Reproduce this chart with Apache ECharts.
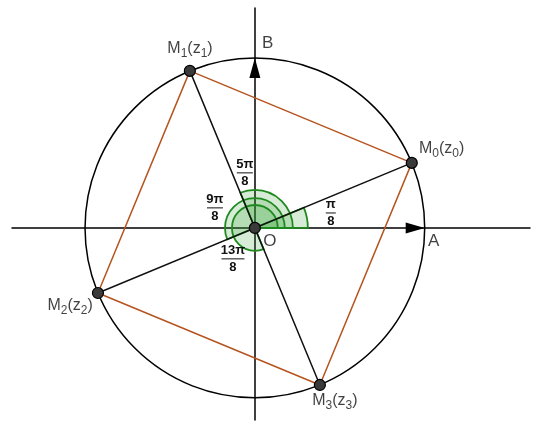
<!DOCTYPE html>
<html><head><meta charset="utf-8">
<script src="https://cdn.jsdelivr.net/npm/echarts@6/dist/echarts.min.js"></script>
<style>html,body{margin:0;padding:0;background:#fff}#c{width:535px;height:426px}</style>
</head><body><div id="c"></div>
<script>
// Data
const pointAnglesEighths = [1, 5, 9, 13];          // angles of M0..M3 in units of pi/8
const pointRadius = 1;
const pointNames = ['0', '1', '2', '3'];
const pointLabelPos = [[1.10, 0.465], [-0.382, 1.053], [-1.088, -0.459], [0.471, -1.018]];
const arcAnglesEighths = [1, 5, 9, 13];
const arcRadii = [0.312, 0.224, 0.176, 0.135];
const fracNumerators = ['π', '5π', '9π', '13π'];
const fracDenominators = ['8', '8', '8', '8'];
const fracPos = [[0.447, 0.088], [-0.059, 0.324], [-0.235, 0.118], [-0.129, -0.182]];
const axisLetters = ['A', 'B', 'O'];
const axisLetterPos = [[1.053, -0.076], [0.076, 1.088], [0.088, -0.076]];

const pts = pointAnglesEighths.map(k => [pointRadius * Math.cos(k * Math.PI / 8), pointRadius * Math.sin(k * Math.PI / 8)]);
const FONT = 'Liberation Sans, Arial, sans-serif';

const chart = echarts.init(document.getElementById('c'), null, {renderer: 'canvas'});
const hiddenAxis = (min, max) => ({
  type: 'value', min, max,
  axisLine: {show: true, onZero: true, lineStyle: {color: '#000', width: 1.5}},
  axisTick: {show: false}, axisLabel: {show: false}, splitLine: {show: false}
});

const option = {
  animation: false,
  backgroundColor: '#fff',
  grid: {left: 12, right: 5, top: 8, bottom: 6},
  xAxis: hiddenAxis(-1.43, 1.62),
  yAxis: hiddenAxis(-1.13, 1.294),
  series: [
    { // angle sectors
      type: 'custom', z: 2,
      data: arcAnglesEighths.map((k, i) => [0, 0, k, arcRadii[i]]),
      renderItem: (params, api) => {
        const c = api.coord([api.value(0), api.value(1)]);
        const r = api.size([api.value(3), 0])[0];
        return {type: 'sector', shape: {cx: c[0], cy: c[1], r0: 0, r: r, startAngle: 0, endAngle: -api.value(2) * Math.PI / 8, clockwise: false},
          style: {fill: 'rgba(50,160,50,0.2)', stroke: '#1e8a1e', lineWidth: 1.8}};
      }
    },
    { // circle
      type: 'custom', z: 3,
      data: [[0, 0, pointRadius]],
      renderItem: (params, api) => {
        const c = api.coord([api.value(0), api.value(1)]);
        const r = api.size([api.value(2), 0])[0];
        return {type: 'circle', shape: {cx: c[0], cy: c[1], r: r}, style: {fill: 'none', stroke: '#000', lineWidth: 1.5}};
      }
    },
    { // diagonals
      type: 'line', z: 4, symbol: 'none', silent: true,
      data: [pts[0], pts[2], null, pts[1], pts[3]],
      connectNulls: false,
      lineStyle: {color: '#111', width: 1.5}
    },
    { // square
      type: 'line', z: 4, symbol: 'none', silent: true,
      data: [pts[0], pts[1], pts[2], pts[3], pts[0]],
      lineStyle: {color: '#b5541e', width: 1.5}
    },
    { // arrows at A and B
      type: 'custom', z: 5,
      data: [[pointRadius, 0, 0], [0, pointRadius, 1]],
      renderItem: (params, api) => {
        const c = api.coord([api.value(0), api.value(1)]);
        const pts2 = api.value(2) === 0
          ? [[c[0], c[1]], [c[0] - 19, c[1] - 5.5], [c[0] - 19, c[1] + 5.5]]
          : [[c[0], c[1]], [c[0] - 5.5, c[1] + 20], [c[0] + 5.5, c[1] + 20]];
        return {type: 'polygon', shape: {points: pts2}, style: {fill: '#000'}};
      }
    },
    { // points
      type: 'scatter', z: 6, symbol: 'circle', symbolSize: 11,
      data: pts.concat([[0, 0]]),
      itemStyle: {color: '#3a3a3a', borderColor: '#000', borderWidth: 1.2, opacity: 1}
    },
    { // point labels
      type: 'scatter', z: 7, symbolSize: 0,
      data: pointLabelPos.map((p, i) => ({value: p, name: pointNames[i]})),
      label: {
        show: true, position: 'inside',
        formatter: p => 'M{s|' + p.name + '}(z{s|' + p.name + '})',
        fontFamily: FONT, fontSize: 16, color: '#111',
        rich: {s: {fontFamily: FONT, fontSize: 12, color: '#111', padding: [10, 0, 0, 0]}}
      }
    },
    { // axis letters
      type: 'scatter', z: 7, symbolSize: 0,
      data: axisLetterPos.map((p, i) => ({value: p, name: axisLetters[i]})),
      label: {show: true, position: 'inside', formatter: '{b}', fontFamily: FONT, fontSize: 17, color: '#111'}
    },
    { // fractions
      type: 'custom', z: 7,
      data: fracPos.map((p, i) => [p[0], p[1], i]),
      renderItem: (params, api) => {
        const c = api.coord([api.value(0), api.value(1)]);
        const i = api.value(2);
        const w = fracNumerators[i].length > 1 ? (fracNumerators[i].length > 2 ? 23 : 16) : 10;
        return {type: 'group', children: [
          {type: 'text', style: {text: fracNumerators[i], x: c[0], y: c[1] - 2, align: 'center', verticalAlign: 'bottom', font: 'bold 13px ' + FONT, fill: '#111'}},
          {type: 'line', shape: {x1: c[0] - w / 2, y1: c[1], x2: c[0] + w / 2, y2: c[1]}, style: {stroke: '#111', lineWidth: 1}},
          {type: 'text', style: {text: fracDenominators[i], x: c[0], y: c[1] + 2, align: 'center', verticalAlign: 'top', font: 'bold 13px ' + FONT, fill: '#111'}}
        ]};
      }
    }
  ]
};
chart.setOption(option);
</script>
</body></html>
